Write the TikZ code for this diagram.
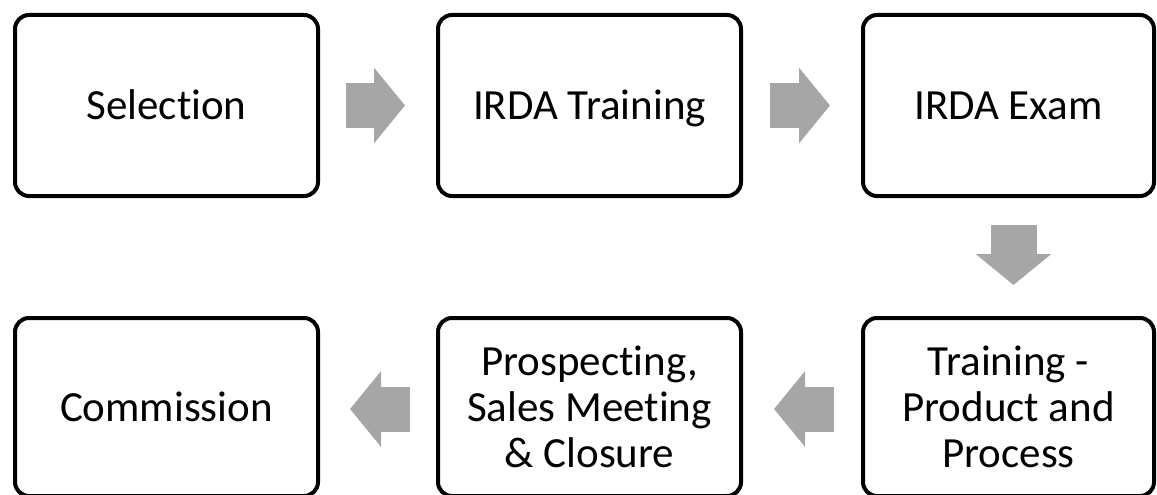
\documentclass[tikz,border=0pt]{standalone}
\usepackage{fontspec}
\setmainfont{Carlito}[Ligatures={NoCommon}]
\usetikzlibrary{arrows.meta}
\definecolor{arrowgray}{RGB}{166,166,166}
\tikzset{
  stage/.style={draw=black, line width=4pt, rounded corners=14pt, minimum width=303pt,
    minimum height=181pt, align=center, inner sep=0pt,
    font=\fontsize{43pt}{46pt}\selectfont},
  oneline/.style={text height=30pt, text depth=2pt},
  blockarrow/.style={draw=arrowgray, line width=45pt,
    -{Triangle[length=31pt,width=74pt,fill=arrowgray]}},
}
\begin{document}
\begin{tikzpicture}[x=1pt,y=-1pt]
\useasboundingbox (0,0) rectangle (1157,495);
\node[stage, oneline] (b1) at (166.5,105.5) {Selection};
\node[stage, oneline] (b2) at (589.5,105.5) {IRDA Training};
\node[stage, oneline, minimum width=291pt] (b3) at (1008.5,105.5) {IRDA Exam};
\node[stage, oneline, minimum height=178pt] (b4) at (166.5,407) {Commission};
\node[stage, minimum height=178pt] (b5) at (589.5,407) {Prospecting,\\Sales Meeting\\\& Closure};
\node[stage, minimum width=291pt, minimum height=178pt] (b6) at (1008.5,407) {Training -\\Product and\\Process};
\draw[blockarrow] ([xshift=26pt]b1.east) -- ([xshift=-31pt]b2.west);
\draw[blockarrow] ([xshift=27pt]b2.east) -- ([xshift=-31pt]b3.west);
\draw[blockarrow, line width=46pt] ([xshift=5pt,yshift=-27pt]b3.south) -- ([xshift=5pt,yshift=31pt]b6.north);
\draw[blockarrow] ([xshift=-27pt,yshift=-2pt]b6.west) -- ([xshift=31pt,yshift=-2pt]b5.east);
\draw[blockarrow] ([xshift=-26pt,yshift=-2pt]b5.west) -- ([xshift=30pt,yshift=-2pt]b4.east);
\end{tikzpicture}
\end{document}
